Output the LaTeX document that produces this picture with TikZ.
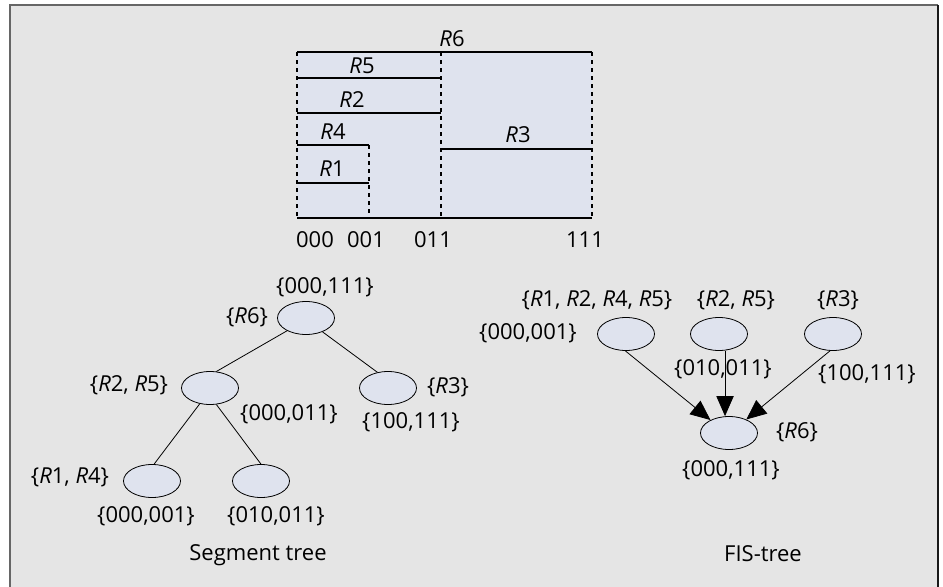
\documentclass[tikz,border=0pt]{standalone}
\usepackage{fontspec}
\setmainfont{Open Sans}
\usepackage{tikz}
\usetikzlibrary {arrows.meta,
                 shapes.geometric,
                 positioning}
\definecolor{panelgray}{HTML}{E5E5E5}
\definecolor{nodefill}{HTML}{DFE3EE}
\newcommand{\rname}[1]{\textit{R}#1}
\tikzset{
        lbl/.style={inner sep=0pt, font=\fontsize{16.5}{18}\selectfont},
        seg/.style={ellipse, draw, fill=nodefill, line width=0.6pt,
                    minimum width=42.75pt, minimum height=24.75pt,
                    inner sep=0pt},
        edge/.style={line width=0.6pt},
        fisarrow/.style={-{Triangle[length=15pt, width=13pt]}, line width=0.6pt},
        stripe/.style={line width=0.8pt},
 }

\begin{document}
\begin{tikzpicture}[x=0.75pt, y=-0.75pt]
    \useasboundingbox (0,0) rectangle (943,586);
    \fill[panelgray] (10,5) rectangle (938,592);
    \draw[black!60, line width=1.3pt] (10,592) -- (10,5) -- (938,5);
    \draw[black!90, line width=1.3pt] (938,5) -- (938,592);

    % intervals R1 ... R6
    \fill[nodefill] (297,52) rectangle (592,218);
    \draw[stripe] (297,52) -- (592,52);
    \draw[stripe] (297,78) -- (441,78);
    \draw[stripe] (297,113) -- (441,113);
    \draw[stripe] (297,145) -- (369,145);
    \draw[stripe] (297,183) -- (369,183);
    \draw[stripe] (441,149) -- (592,149);
    \foreach \x in {297,441,592}
        \draw[dashed, stripe] (\x,52) -- (\x,218);
    \draw[dashed, stripe] (369,145) -- (369,218);
    \draw[line width=1.6pt] (297,218) -- (592,218);

    \node[lbl] (r6) at (452,39) {\rname{6}};
    \node[lbl] (r5) at (362,66) {\rname{5}};
    \node[lbl] (r2) at (352,100) {\rname{2}};
    \node[lbl] (r4) at (333,132) {\rname{4}};
    \node[lbl] (r1) at (332,169) {\rname{1}};
    \node[lbl] (r3) at (518,135) {\rname{3}};
    \foreach \x/\t in {315/000, 366/001, 433/011, 585/111}
        \node[lbl] (ax\t) at (\x,240) {\t};

    % segment tree
    \node[seg] (s0) at (306,318) {};
    \node[seg] (s1) at (210,388) {};
    \node[seg] (s2) at (388,388) {};
    \node[seg] (s3) at (152,481) {};
    \node[seg] (s4) at (261,481) {};
    \draw[edge] (s0.214) -- (s1.69);
    \draw[edge] (s0.320) -- (s2.124);
    \draw[edge] (s1.237) -- (s3.83);
    \draw[edge] (s1.291) -- (s4.90);

    \node[lbl] (s0a) at (325,287) {\{000,111\}};
    \node[lbl] (s0b) at (247,317) {\{\rname{6}\}};
    \node[lbl] (s1b) at (129,385) {\{\rname{2}, \rname{5}\}};
    \node[lbl] (s1a) at (289,414) {\{000,011\}};
    \node[lbl] (s2b) at (448,387) {\{\rname{3}\}};
    \node[lbl] (s2a) at (411,422) {\{100,111\}};
    \node[lbl] (s3b) at (70,477) {\{\rname{1}, \rname{4}\}};
    \node[lbl] (s3a) at (146,516) {\{000,001\}};
    \node[lbl] (s4a) at (276,516) {\{010,011\}};
    \node[lbl] (segcap) at (258,555) {Segment tree};

    % FIS-tree
    \node[seg] (f1) at (626,334) {};
    \node[seg] (f2) at (719,334) {};
    \node[seg] (f3) at (833,334) {};
    \node[seg] (f0) at (729,433) {};
    \draw[fisarrow] (f1.268) -- (f0.145);
    \draw[fisarrow] (f2.290) -- (f2.290 |- f0.north);
    \draw[fisarrow] (f3.260) -- (f0.38);

    \node[lbl] (f1b) at (597,300) {\{\rname{1}, \rname{2}, \rname{4}, \rname{5}\}};
    \node[lbl] (f2b) at (736,300) {\{\rname{2}, \rname{5}\}};
    \node[lbl] (f3b) at (838,300) {\{\rname{3}\}};
    \node[lbl] (f1a) at (528,333) {\{000,001\}};
    \node[lbl] (f2a) at (723,369) {\{010,011\}};
    \node[lbl] (f3a) at (867,374) {\{100,111\}};
    \node[lbl] (f0b) at (797,432) {\{\rname{6}\}};
    \node[lbl] (f0a) at (731,470) {\{000,111\}};
    \node[lbl] (fiscap) at (763,554) {FIS-tree};
\end{tikzpicture}
\end{document}
